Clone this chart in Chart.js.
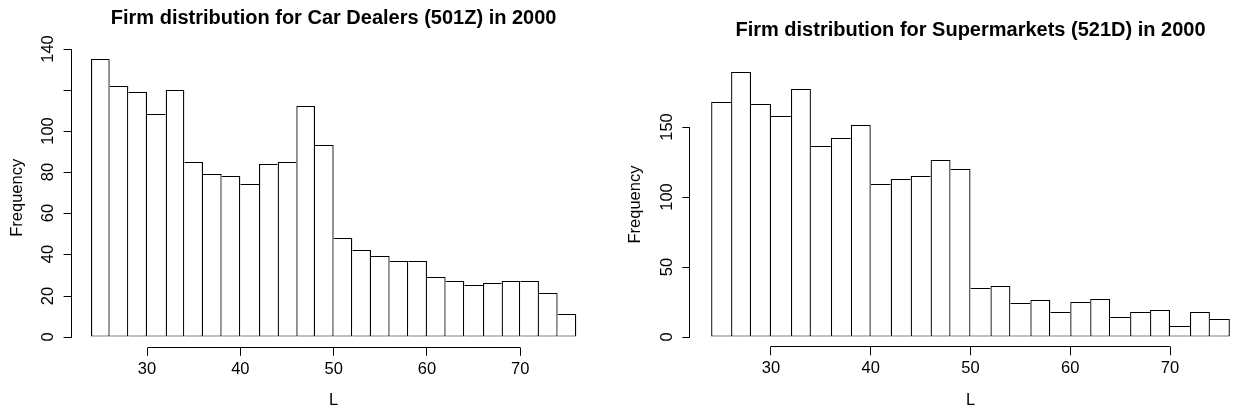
<!DOCTYPE html>
<html><head><meta charset="utf-8">
<script src="https://cdn.jsdelivr.net/npm/chart.js@4.4.1/dist/chart.umd.min.js"></script>
<style>
html,body{margin:0;padding:0;background:#fff;overflow:hidden;width:1235px;height:415px;position:relative;}
canvas{position:absolute;top:0;}
#c1{left:0;}
#c2{left:617px;}
</style></head><body>
<canvas id="c1" width="617" height="415"></canvas>
<canvas id="c2" width="640" height="415"></canvas>
<script>
// Histogram bins: width 2, from 24 to 76 (centres listed)
const binCenters = [25,27,29,31,33,35,37,39,41,43,45,47,49,51,53,55,57,59,61,63,65,67,69,71,73,75];
const carDealers = [135,122,119,108,120,85,79,78,74,84,85,112,93,48,42,39,37,37,29,27,25,26,27,27,21,11];
const supermarkets = [168,189,166,158,177,136,142,151,109,113,115,126,120,35,36,24,26,18,25,27,14,18,19,8,18,13];
const xTicks = [30,40,50,60,70];
const carYTicks = [0,20,40,60,80,100,120,140];
const carYLabels = [0,20,40,60,80,100,140];
const superYTicks = [0,50,100,150];
const superYLabels = [0,50,100,150];
const carTitle = 'Firm distribution for Car Dealers (501Z) in 2000';
const superTitle = 'Firm distribution for Supermarkets (521D) in 2000';
const xTitle = 'L';
const yTitle = 'Frequency';

const FONT = '"Liberation Sans", Arial, Helvetica, sans-serif';
const VW = 1.3; // vertical edge width

function edgeWidths(vals){
  return ctx => {
    const i = ctx.dataIndex;
    if (i === undefined) return 1;
    const v = vals[i], n = vals.length;
    const left = (i === 0 || vals[i-1] < v) ? VW : 0;
    const right = (i === n-1 || vals[i+1] <= v) ? VW : 0;
    return {top:1, bottom:1, left, right};
  };
}

function alignPx(p){ return Math.round(p - 0.5) + 0.5; }

const rAxisLines = {
  id: 'rAxisLines',
  afterDraw(chart){
    const ctx = chart.ctx;
    const xs = chart.scales.x, ys = chart.scales.y;
    ctx.save();
    ctx.strokeStyle = '#000';
    ctx.lineWidth = 1;
    ctx.beginPath();
    const xa = alignPx(xs.getPixelForValue(xs.ticks[0].value));
    const xb = alignPx(xs.getPixelForValue(xs.ticks[xs.ticks.length-1].value));
    const yy = Math.round(xs.top) - 0.5;
    ctx.moveTo(xa, yy); ctx.lineTo(xb, yy);
    const ya = alignPx(ys.getPixelForValue(ys.ticks[0].value));
    const yb = alignPx(ys.getPixelForValue(ys.ticks[ys.ticks.length-1].value));
    const xx = Math.round(ys.right) - 0.5;
    ctx.moveTo(xx, ya); ctx.lineTo(xx, yb);
    ctx.stroke();
    ctx.restore();
  }
};

function makeChart(id, vals, o){
  const maxV = Math.max(...vals);
  const xLo = binCenters[0] - 1, xHi = binCenters[binCenters.length-1] + 1;
  const xr = xHi - xLo;
  const gridOpts = {display:true, drawOnChartArea:false, drawTicks:true, tickLength:8, color:'#000', lineWidth:1, offset:false};
  return new Chart(document.getElementById(id), {
    type: 'bar',
    data: {datasets: [{
      data: binCenters.map((c,i) => ({x:c, y:vals[i]})),
      backgroundColor: '#fff',
      borderColor: '#000',
      borderWidth: edgeWidths(vals),
      borderSkipped: false,
      inflateAmount: 0,
      barPercentage: 1,
      categoryPercentage: 1
    }]},
    options: {
      responsive: false,
      animation: false,
      devicePixelRatio: 1,
      layout: {padding: {left:0, right:o.padRight, top:0, bottom:0}},
      plugins: {
        legend: {display:false},
        tooltip: {enabled:false},
        title: {display:true, text:o.title, fullSize:false, color:'#000',
          font:{family:FONT, size:20, weight:'bold', lineHeight:1.2},
          padding:{top:o.titleTop, bottom:o.titleBottom}}
      },
      scales: {
        x: {
          type:'linear', offset:false, bounds:'data',
          min: xLo - 0.04*xr, max: xHi + 0.04*xr,
          afterBuildTicks: s => { s.ticks = xTicks.map(v => ({value:v})); },
          afterFit: s => { s.height = o.xH; },
          grid: gridOpts,
          border: {display:false},
          ticks: {color:'#000', font:{family:FONT, size:16.5}, padding:3.6, maxRotation:0, minRotation:0, autoSkip:false, callback: v => String(v)},
          title: {display:true, text:xTitle, color:'#000', font:{family:FONT, size:16.5}, padding:{top:0, bottom:5.1}}
        },
        y: {
          type:'linear', bounds:'data', alignToPixels:true,
          min: -0.04*maxV, max: 1.04*maxV,
          afterBuildTicks: s => { s.ticks = o.yTicks.map(v => ({value:v})); },
          afterFit: s => { s.width = o.yW; },
          grid: gridOpts,
          border: {display:false},
          ticks: {color:'#000', font:{family:FONT, size:16.5}, padding:o.yPad, minRotation:90, maxRotation:90, crossAlign:'center', autoSkip:false,
            callback: v => o.yLabels.includes(v) ? String(v) : ''},
          title: {display:true, text:yTitle, color:'#000', font:{family:FONT, size:16.5}, padding:{top:o.yTitlePad, bottom:0}}
        }
      }
    },
    plugins: [rAxisLines]
  });
}

makeChart('c1', carDealers, {title:carTitle, padRight:617-595.7, titleTop:6, titleBottom:17.7, xH:415-347.8, yW:71.6, yPad:1.5, yTitlePad:7.9, yTicks:carYTicks, yLabels:carYLabels});
makeChart('c2', supermarkets, {title:superTitle, padRight:640-633.6, titleTop:18.1, titleBottom:19.6, xH:415-347.3, yW:73.4, yPad:1.5, yTitlePad:8.9, yTicks:superYTicks, yLabels:superYLabels});
</script>
</body></html>
